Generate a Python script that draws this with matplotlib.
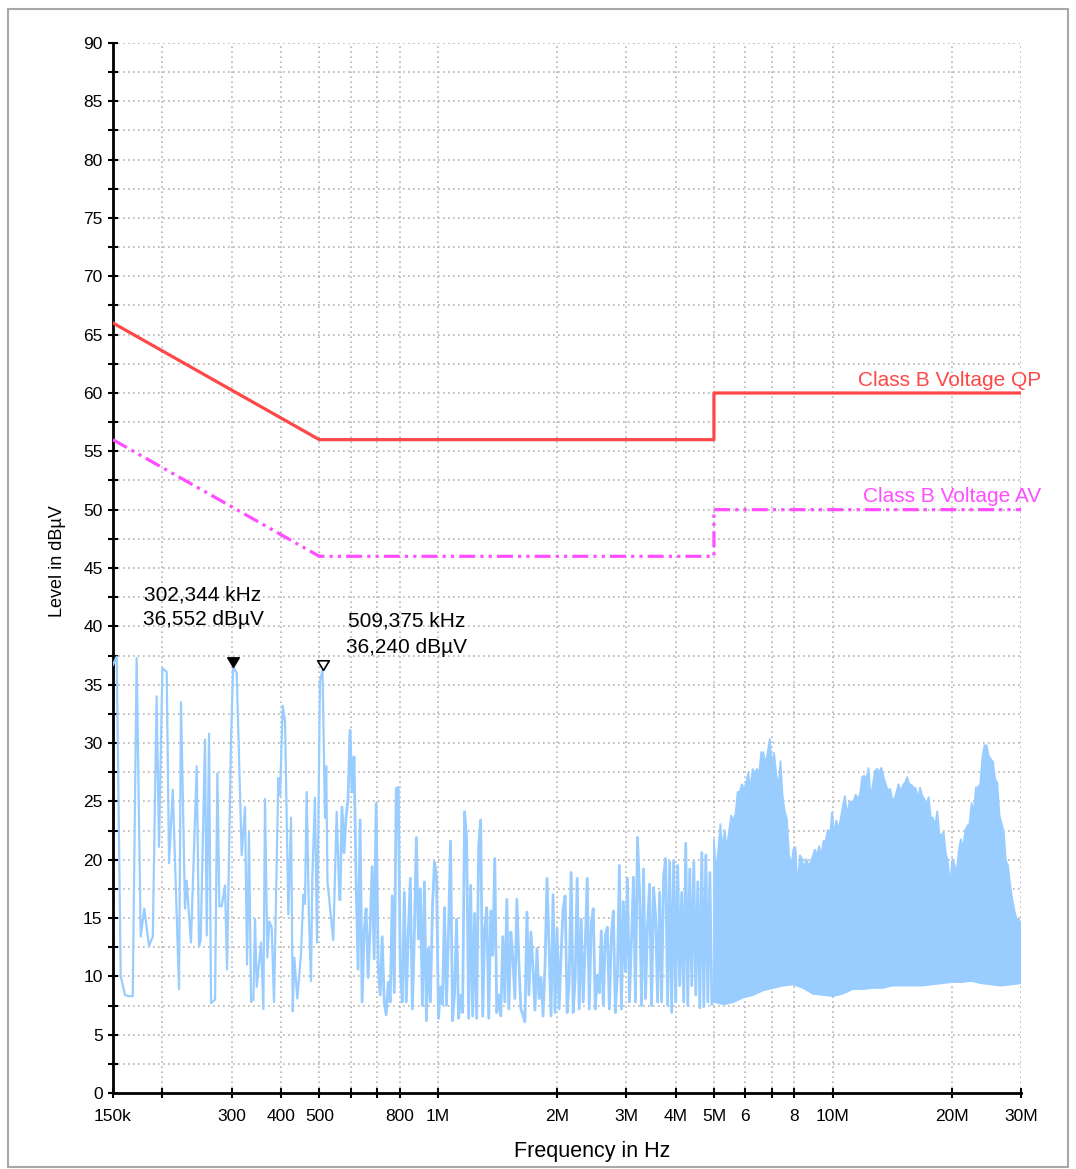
import numpy as np
import matplotlib
matplotlib.use("Agg")
import matplotlib.pyplot as plt
from matplotlib.ticker import FixedLocator, NullFormatter, MultipleLocator
from matplotlib.patches import Rectangle

plt.rcParams['font.family'] = ['Liberation Sans', 'DejaVu Sans']

# ---- limit lines (MHz, dBuV) ----
qp_freq = [0.15, 0.5, 5.0, 5.0, 30.0]
qp_level = [66.0, 56.0, 56.0, 60.0, 60.0]
av_freq = [0.15, 0.5, 5.0, 5.0, 30.0]
av_level = [56.0, 46.0, 46.0, 50.0, 50.0]

# ---- scan, lower part (kHz, dBuV) ----
low_freq_k = [150.0, 153.3, 156.9, 160.9, 164.0, 168.3, 172.2, 176.3, 180.0, 185.1,
              189.2, 193.5, 196.2, 200.1, 205.2, 208.0, 212.6, 220.5, 223.1, 228.3,
              230.5, 236.4, 244.5, 247.8, 250.2, 256.6, 259.2, 262.7, 265.8, 272.1,
              275.8, 279.0, 282.8, 288.4, 291.8, 298.6, 302.344, 308.7, 317.9, 324.1,
              327.9, 331.7, 335.7, 340.3, 343.6, 347.0, 355.8, 360.7, 364.2, 369.2,
              373.5, 378.6, 383.8, 393.6, 397.5, 403.8, 409.3, 417.3, 423.9, 428.1,
              432.1, 439.8, 449.3, 455.4, 459.9, 464.4, 470.7, 476.2, 480.0, 487.5,
              493.3, 501.9, 509.375, 516.8, 520.5, 524.3, 530.0, 542.4, 553.3, 562.1]
low_level = [36.7, 37.4, 10.0, 8.4, 8.3, 8.3, 37.3, 13.4, 15.8, 12.6,
             13.4, 34.0, 21.1, 36.4, 36.1, 19.7, 26.0, 8.9, 33.5, 15.8,
             18.2, 12.9, 28.0, 12.6, 13.1, 30.3, 13.5, 30.8, 7.7, 8.0,
             27.4, 16.0, 16.0, 17.8, 10.6, 30.2, 36.552, 36.0, 20.4, 24.5,
             11.0, 22.3, 7.8, 8.0, 14.9, 9.1, 12.9, 7.2, 25.2, 11.6,
             14.7, 14.2, 7.8, 27.0, 25.5, 33.2, 31.9, 15.3, 23.6, 7.0,
             11.6, 8.1, 11.9, 17.0, 16.2, 25.8, 14.9, 9.6, 18.5, 25.3,
             12.9, 35.3, 36.24, 23.6, 28.0, 18.1, 16.5, 13.1, 24.1, 16.6]

# ---- scan, 0.564 .. 4.94 MHz, levels at equal log steps ----
mid_start, mid_stop = 0.564, 4.94
mid_level = [16.6, 24.5, 20.6, 23.6, 25.2, 31.1, 25.8, 28.8, 18.4, 10.6,
             23.4, 7.8, 13.8, 15.8, 9.9, 14.2, 19.4, 11.5, 24.8, 10.9,
             8.4, 13.4, 7.8, 6.7, 9.5, 7.8, 16.9, 8.6, 26.1, 26.2,
             10.6, 7.8, 17.2, 7.8, 13.8, 18.4, 7.2, 13.5, 21.9, 13.2,
             17.5, 7.5, 18.1, 6.2, 12.4, 7.8, 15.9, 19.8, 18.6, 6.4,
             9.1, 7.6, 15.9, 7.5, 13.8, 21.6, 6.2, 8.5, 14.9, 6.4,
             8.4, 6.9, 24.1, 21.8, 6.4, 17.8, 6.6, 15.4, 6.4, 21.2,
             23.4, 6.6, 14.1, 15.9, 6.4, 15.6, 11.8, 20.1, 6.9, 8.4,
             6.6, 13.4, 7.8, 16.6, 7.2, 13.8, 11.5, 8.1, 16.6, 11.2,
             7.2, 6.7, 6.1, 15.5, 8.4, 13.8, 10.8, 7.1, 12.4, 8.1,
             9.9, 6.6, 10.9, 18.4, 12.4, 6.6, 17.0, 6.9, 14.1, 7.2,
             11.9, 15.8, 16.9, 6.9, 9.5, 18.9, 6.9, 9.8, 18.4, 7.2,
             14.9, 7.8, 12.6, 18.4, 7.2, 14.6, 15.8, 7.2, 10.1, 8.6,
             13.9, 7.5, 13.5, 14.2, 7.2, 13.5, 15.6, 6.9, 10.1, 19.5,
             7.2, 16.4, 10.4, 18.4, 7.8, 13.2, 18.5, 7.8, 21.9, 17.4,
             7.5, 19.2, 8.1, 14.4, 17.9, 7.5, 17.6, 15.2, 7.8, 17.2,
             7.8, 18.6, 20.1, 7.5, 19.8, 6.9, 19.9, 7.8, 19.5, 9.2,
             17.2, 7.8, 21.4, 7.5, 19.2, 9.2, 19.8, 8.4, 18.1, 7.3,
             20.6, 7.4, 20.4, 7.8, 18.9, 7.6]

# ---- scan, 5 .. 30 MHz: peak hold and floor of the trace ----
band_start, band_stop = 5.0, 30.0
band_peak = [21.8, 18.9, 20.9, 23.1, 20.9, 22.6, 20.9, 22.4, 23.8, 23.4,
             23.9, 25.8, 25.8, 26.5, 26.1, 26.6, 27.5, 26.1, 27.8, 27.4,
             27.8, 27.4, 29.2, 29.2, 28.2, 29.2, 30.4, 28.1, 29.2, 27.4,
             26.2, 28.5, 25.5, 24.1, 23.5, 20.4, 19.5, 20.9, 21.1, 17.5,
             20.4, 20.1, 19.2, 20.1, 19.5, 19.8, 20.3, 20.9, 20.4, 21.2,
             20.4, 21.6, 21.6, 22.6, 22.0, 24.1, 22.2, 23.4, 22.6, 23.5,
             24.6, 25.5, 23.8, 24.9, 25.0, 25.0, 25.6, 25.2, 25.6, 27.1,
             27.2, 26.9, 27.9, 25.3, 26.5, 27.6, 27.8, 27.5, 27.9, 27.1,
             26.5, 25.9, 26.1, 25.2, 25.2, 25.8, 26.5, 25.8, 26.4, 26.6,
             27.1, 26.5, 26.4, 26.2, 26.1, 25.3, 26.2, 25.5, 25.2, 24.8,
             25.4, 23.6, 23.6, 22.9, 24.2, 22.2, 22.1, 22.4, 20.6, 19.8,
             17.9, 20.1, 19.6, 18.9, 20.8, 21.8, 20.9, 22.5, 22.9, 23.1,
             24.9, 24.1, 26.2, 26.2, 26.5, 28.8, 29.8, 29.8, 28.9, 28.6,
             28.4, 26.9, 26.6, 23.8, 23.1, 22.4, 19.9, 19.5, 17.8, 16.6,
             15.6, 14.9, 14.9, 14.4]
band_floor = [7.8, 7.6, 7.8, 8.2, 8.4, 8.8, 9.0, 9.2, 9.3, 9.0,
              8.5, 8.4, 8.3, 8.5, 8.9, 8.9, 9.0, 9.0, 9.2, 9.2,
              9.2, 9.2, 9.3, 9.4, 9.5, 9.5, 9.6, 9.4, 9.3, 9.2,
              9.3, 9.4]

# ---- marker readouts ----
mark_freq_k = [302.344, 509.375]
mark_level = [36.552, 36.240]

TRACE = '#99ccff'
QP_COL = '#ff4747'
AV_COL = '#ff4dff'

W, H = 1076, 1169
fig = plt.figure(figsize=(W / 100, H / 100), dpi=100)
ax = fig.add_axes([113 / W, 76 / H, 908 / W, 1050 / H])

# trace below 5 MHz
n_low = len(low_level)
mid_f = np.geomspace(mid_start, mid_stop, len(mid_level)) * 1e6
trace_f = np.concatenate([np.array(low_freq_k) * 1e3, mid_f])
trace_l = np.concatenate([low_level, mid_level])
ax.plot(trace_f[:n_low + 1], trace_l[:n_low + 1], color=TRACE, lw=1.6, zorder=3)
ax.plot(trace_f[n_low:], trace_l[n_low:], color=TRACE, lw=2.0, zorder=3)

# 5-30 MHz: dense sweep drawn as a filled band between peak and floor
pk_f = np.geomspace(band_start, band_stop, len(band_peak)) * 1e6
fl_f = np.geomspace(band_start, band_stop, len(band_floor)) * 1e6
poly_x = np.concatenate([pk_f, fl_f[::-1]])
poly_y = np.concatenate([band_peak, band_floor[::-1]])
ax.fill(poly_x, poly_y, color=TRACE, lw=1.2, zorder=3)

# limit lines
ax.plot(np.array(qp_freq) * 1e6, qp_level, color=QP_COL, lw=2.3, zorder=4)
ax.plot(np.array(av_freq) * 1e6, av_level, color=AV_COL, lw=2.3, zorder=4,
        linestyle=(0, (5, 1.6, 1, 1.6, 1, 1.6)))

# marker triangles sit with their tip on the reading
tri = [(0, 0), (-0.6, 1.0), (0.6, 1.0), (0, 0)]
ax.plot(mark_freq_k[0] * 1e3, mark_level[0], marker=tri, ms=14, mfc='black',
        mec='black', mew=1, ls='none', zorder=6)
ax.plot(mark_freq_k[1] * 1e3, mark_level[1], marker=tri, ms=14, mfc='white',
        mec='black', mew=1.2, ls='none', zorder=6)

# axes
ax.set_xscale('log')
ax.set_xlim(150e3, 30e6)
ax.set_ylim(0, 90)

major_x = [150e3, 300e3, 400e3, 500e3, 800e3, 1e6, 2e6, 3e6, 4e6, 5e6, 6e6, 8e6,
           10e6, 20e6, 30e6]
major_x_lab = ['150k', '300', '400', '500', '800', '1M', '2M', '3M', '4M', '5M',
               '6', '8', '10M', '20M', '30M']
minor_x = [200e3, 600e3, 700e3, 7e6]
ax.xaxis.set_major_locator(FixedLocator(major_x))
ax.set_xticklabels(major_x_lab)
ax.xaxis.set_minor_locator(FixedLocator(minor_x))
ax.xaxis.set_minor_formatter(NullFormatter())
ax.yaxis.set_major_locator(MultipleLocator(5))
ax.yaxis.set_minor_locator(MultipleLocator(2.5))

ax.tick_params(which='both', direction='inout', length=7, width=1.5,
               color='black', labelsize=12.5, pad=4)
ax.tick_params(axis='x', which='both', pad=8)
for s in ('top', 'right'):
    ax.spines[s].set_visible(False)
for s in ('left', 'bottom'):
    ax.spines[s].set_linewidth(2)

ax.set_axisbelow(True)
ax.grid(which='both', color='#b5b5b5', linestyle=(0, (1, 2)), linewidth=1.2)

# labels
fig.text(592 / W, 1 - 1152 / H, 'Frequency in Hz', fontsize=15.5,
         ha='center', va='center')
fig.text(58 / W, 1 - 561 / H, 'Level in dBµV', fontsize=13,
         rotation=90, ha='center', va='center')

fig.text(203 / W, 1 - 595 / H, '302,344 kHz', fontsize=15, ha='center', va='center')
fig.text(203 / W, 1 - 620 / H, '36,552 dBµV', fontsize=15, ha='center', va='center')
fig.text(407 / W, 1 - 621 / H, '509,375 kHz', fontsize=15, ha='center', va='center')
fig.text(407 / W, 1 - 647 / H, '36,240 dBµV', fontsize=15, ha='center', va='center')

fig.text(950 / W, 1 - 380 / H, 'Class B Voltage QP', fontsize=15, color=QP_COL,
         ha='center', va='center', zorder=10)
fig.text(952 / W, 1 - 497 / H, 'Class B Voltage AV', fontsize=15, color=AV_COL,
         ha='center', va='center', zorder=10)

# outer frame
fig.patches.append(Rectangle((8 / W, 2 / H), 1060 / W, 1158 / H, fill=False,
                             edgecolor='#a8a8a8', lw=1.5,
                             transform=fig.transFigure, zorder=0))

fig.savefig('out.png', dpi=100)
